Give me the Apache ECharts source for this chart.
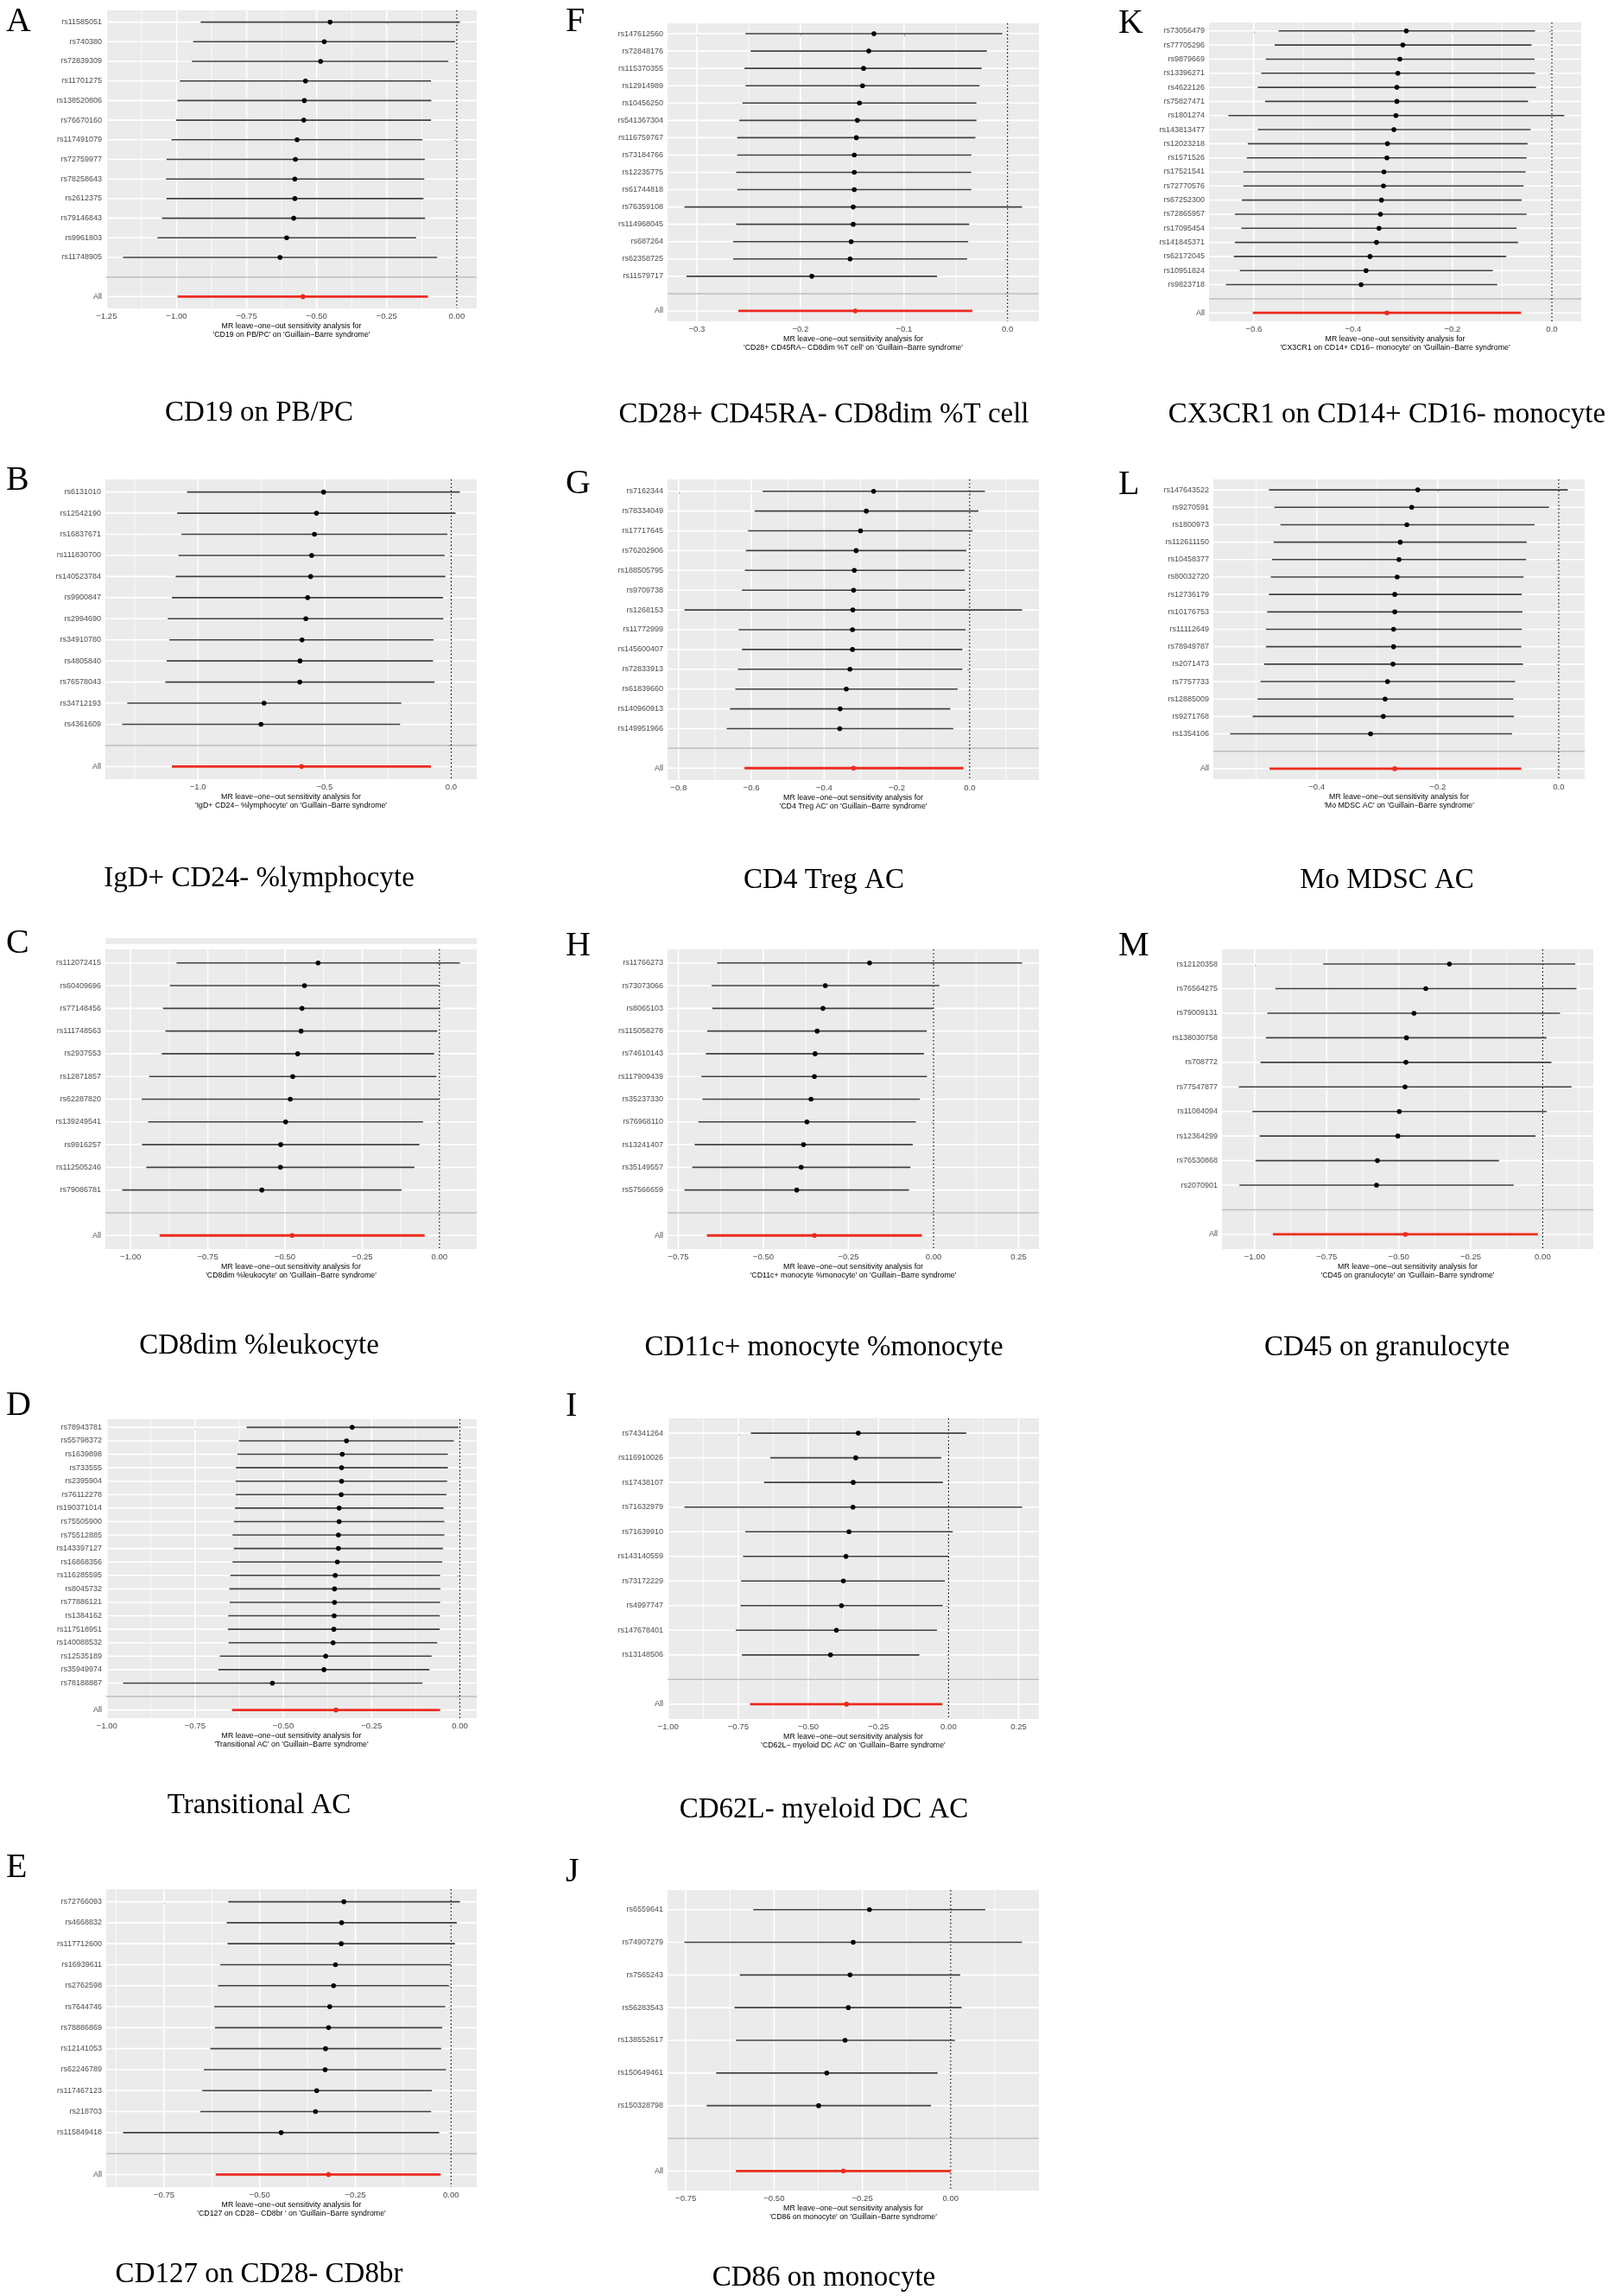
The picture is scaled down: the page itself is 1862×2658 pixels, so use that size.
<!DOCTYPE html>
<html lang="en">
<head>
<meta charset="UTF-8">
<title>MR leave-one-out | GBS</title>
<script src="https://cdn.jsdelivr.net/npm/echarts@6.0.0/dist/echarts.min.js"></script>
<style>
    html, body { margin: 0; padding: 0; background: #fff; }
    #main { width: 1862px; height: 2658px; }
</style>
</head>
<body>
<div id="main"></div>
<script type="text/javascript">
// A  CD19 on PB/PC
const snpA = ['rs11585051', 'rs740380', 'rs72839309', 'rs11701275', 'rs138520806', 'rs76670160', 'rs117491079', 'rs72759977', 'rs78258643', 'rs2612375', 'rs79146843', 'rs9961803', 'rs11748905'];
const bA = [-0.452, -0.473, -0.486, -0.540, -0.544, -0.546, -0.570, -0.576, -0.578, -0.578, -0.582, -0.607, -0.631];
const loA = [-0.914, -0.941, -0.945, -0.988, -0.997, -1.001, -1.018, -1.036, -1.038, -1.036, -1.052, -1.068, -1.191];
const upA = [0.011, -0.006, -0.030, -0.092, -0.091, -0.092, -0.123, -0.114, -0.116, -0.119, -0.113, -0.145, -0.070];
const allA = [-0.996, -0.549, -0.103];
const ticksA = ['-1.25', '-1.00', '-0.75', '-0.50', '-0.25', '0.00'];

// B  IgD+ CD24- %lymphocyte
const snpB = ['rs6131010', 'rs12542190', 'rs16837671', 'rs111830700', 'rs140523784', 'rs9900847', 'rs2994690', 'rs34910780', 'rs4805840', 'rs76578043', 'rs34712193', 'rs4361609'];
const bB = [-0.504, -0.532, -0.540, -0.551, -0.555, -0.567, -0.574, -0.589, -0.597, -0.598, -0.739, -0.751];
const loB = [-1.043, -1.082, -1.065, -1.077, -1.088, -1.103, -1.119, -1.113, -1.123, -1.129, -1.279, -1.299];
const upB = [0.034, 0.017, -0.015, -0.026, -0.023, -0.032, -0.031, -0.070, -0.072, -0.066, -0.197, -0.202];
const allB = [-1.103, -0.591, -0.080];
const ticksB = ['-1.0', '-0.5', '0.0'];

// C  CD8dim %leukocyte
const snpC = ['rs112072415', 'rs60409696', 'rs77148456', 'rs111748563', 'rs2937553', 'rs12871857', 'rs62287820', 'rs139249541', 'rs9916257', 'rs112505246', 'rs79086781'];
const bC = [-0.393, -0.437, -0.445, -0.448, -0.459, -0.475, -0.483, -0.498, -0.514, -0.515, -0.575];
const loC = [-0.851, -0.873, -0.895, -0.887, -0.899, -0.940, -0.964, -0.943, -0.963, -0.949, -1.027];
const upC = [0.066, 0.000, 0.002, -0.007, -0.017, -0.010, 0.000, -0.053, -0.065, -0.081, -0.123];
const allC = [-0.906, -0.477, -0.048];
const ticksC = ['-1.00', '-0.75', '-0.50', '-0.25', '0.00'];

// D  Transitional AC
const snpD = ['rs78943781', 'rs55798372', 'rs1639898', 'rs733555', 'rs2395904', 'rs76112278', 'rs190371014', 'rs75505900', 'rs75512885', 'rs143397127', 'rs16868356', 'rs116285595', 'rs8045732', 'rs77886121', 'rs1384162', 'rs117518951', 'rs140088532', 'rs12535189', 'rs35949974', 'rs78188887'];
const bD = [-0.305, -0.321, -0.333, -0.335, -0.335, -0.336, -0.342, -0.342, -0.344, -0.344, -0.347, -0.353, -0.355, -0.355, -0.356, -0.357, -0.359, -0.380, -0.385, -0.531];
const loD = [-0.604, -0.626, -0.630, -0.634, -0.635, -0.635, -0.637, -0.640, -0.644, -0.640, -0.644, -0.650, -0.653, -0.652, -0.656, -0.657, -0.655, -0.680, -0.684, -0.954];
const upD = [-0.004, -0.017, -0.034, -0.034, -0.036, -0.038, -0.046, -0.044, -0.044, -0.048, -0.050, -0.056, -0.055, -0.056, -0.057, -0.057, -0.064, -0.080, -0.086, -0.106];
const allD = [-0.645, -0.351, -0.056];
const ticksD = ['-1.00', '-0.75', '-0.50', '-0.25', '0.00'];

// E  CD127 on CD28- CD8br
const snpE = ['rs72766093', 'rs4668832', 'rs117712600', 'rs16939611', 'rs2762598', 'rs7644746', 'rs78886869', 'rs12141053', 'rs62246789', 'rs117467123', 'rs218703', 'rs115849418'];
const bE = [-0.280, -0.286, -0.287, -0.302, -0.307, -0.317, -0.320, -0.328, -0.329, -0.351, -0.354, -0.444];
const loE = [-0.582, -0.586, -0.584, -0.603, -0.609, -0.619, -0.617, -0.629, -0.646, -0.650, -0.655, -0.857];
const upE = [0.023, 0.015, 0.010, 0.000, -0.006, -0.015, -0.023, -0.026, -0.013, -0.050, -0.052, -0.031];
const allE = [-0.615, -0.320, -0.027];
const ticksE = ['-0.75', '-0.50', '-0.25', '0.00'];

// F  CD28+ CD45RA- CD8dim %T cell
const snpF = ['rs147612560', 'rs72848176', 'rs115370355', 'rs12914989', 'rs10456250', 'rs541367304', 'rs116759767', 'rs73184766', 'rs12235775', 'rs61744818', 'rs76359108', 'rs114968045', 'rs687264', 'rs62358725', 'rs11579717'];
const bF = [-0.129, -0.134, -0.139, -0.140, -0.143, -0.145, -0.146, -0.148, -0.148, -0.148, -0.149, -0.149, -0.151, -0.152, -0.189];
const loF = [-0.253, -0.248, -0.254, -0.253, -0.256, -0.259, -0.261, -0.261, -0.262, -0.261, -0.312, -0.262, -0.265, -0.265, -0.310];
const upF = [-0.005, -0.020, -0.025, -0.027, -0.030, -0.030, -0.031, -0.035, -0.035, -0.035, 0.014, -0.037, -0.038, -0.039, -0.068];
const allF = [-0.260, -0.147, -0.034];
const ticksF = ['-0.3', '-0.2', '-0.1', '0.0'];

// G  CD4 Treg AC
const snpG = ['rs7162344', 'rs78334049', 'rs17717645', 'rs76202906', 'rs188505795', 'rs9709738', 'rs1268153', 'rs11772999', 'rs145600407', 'rs72833913', 'rs61839660', 'rs140960913', 'rs149951966'];
const bG = [-0.264, -0.284, -0.300, -0.312, -0.317, -0.319, -0.321, -0.322, -0.322, -0.329, -0.339, -0.356, -0.357];
const loG = [-0.569, -0.591, -0.609, -0.615, -0.618, -0.626, -0.784, -0.635, -0.626, -0.637, -0.644, -0.659, -0.668];
const upG = [0.042, 0.024, 0.008, -0.009, -0.014, -0.012, 0.144, -0.011, -0.020, -0.020, -0.033, -0.053, -0.045];
const allG = [-0.619, -0.319, -0.017];
const ticksG = ['-0.8', '-0.6', '-0.4', '-0.2', '0.0'];

// H  CD11c+ monocyte %monocyte
const snpH = ['rs11766273', 'rs73073066', 'rs8065103', 'rs115058278', 'rs74610143', 'rs117909439', 'rs35237330', 'rs76968110', 'rs13241407', 'rs35149557', 'rs57566659'];
const bH = [-0.188, -0.318, -0.325, -0.342, -0.348, -0.350, -0.360, -0.372, -0.382, -0.389, -0.402];
const loH = [-0.636, -0.652, -0.650, -0.665, -0.669, -0.682, -0.679, -0.691, -0.702, -0.709, -0.732];
const upH = [0.260, 0.017, -0.001, -0.020, -0.028, -0.019, -0.040, -0.052, -0.061, -0.068, -0.072];
const allH = [-0.666, -0.350, -0.034];
const ticksH = ['-0.75', '-0.50', '-0.25', '0.00', '0.25'];

// I  CD62L- myeloid DC AC
const snpI = ['rs74341264', 'rs116910026', 'rs17438107', 'rs71632979', 'rs71639910', 'rs143140559', 'rs73172229', 'rs4997747', 'rs147678401', 'rs13148506'];
const bI = [-0.322, -0.331, -0.340, -0.341, -0.355, -0.366, -0.375, -0.382, -0.400, -0.421];
const loI = [-0.705, -0.636, -0.658, -0.942, -0.725, -0.733, -0.740, -0.742, -0.759, -0.737];
const upI = [0.063, -0.026, -0.020, 0.262, 0.015, 0.000, -0.013, -0.021, -0.041, -0.104];
const allI = [-0.708, -0.364, -0.022];
const ticksI = ['-1.00', '-0.75', '-0.50', '-0.25', '0.00', '0.25'];

// J  CD86 on monocyte
const snpJ = ['rs6559641', 'rs74907279', 'rs7565243', 'rs56283543', 'rs138552617', 'rs150649461', 'rs150328798'];
const bJ = [-0.230, -0.276, -0.285, -0.290, -0.299, -0.351, -0.374];
const loJ = [-0.559, -0.754, -0.597, -0.612, -0.608, -0.664, -0.691];
const upJ = [0.098, 0.202, 0.027, 0.031, 0.012, -0.037, -0.056];
const allJ = [-0.608, -0.304, 0.000];
const ticksJ = ['-0.75', '-0.50', '-0.25', '0.00'];

// K  CX3CR1 on CD14+ CD16- monocyte
const snpK = ['rs73056479', 'rs77705296', 'rs9879669', 'rs13396271', 'rs4622126', 'rs75827471', 'rs1801274', 'rs143813477', 'rs12023218', 'rs1571526', 'rs17521541', 'rs72770576', 'rs67252300', 'rs72865957', 'rs17095454', 'rs141845371', 'rs62172045', 'rs10951824', 'rs9823718'];
const bK = [-0.293, -0.300, -0.306, -0.310, -0.312, -0.312, -0.314, -0.318, -0.331, -0.332, -0.338, -0.339, -0.343, -0.345, -0.348, -0.353, -0.366, -0.374, -0.384];
const loK = [-0.550, -0.558, -0.576, -0.585, -0.592, -0.577, -0.651, -0.592, -0.612, -0.614, -0.621, -0.621, -0.624, -0.638, -0.625, -0.638, -0.640, -0.628, -0.656];
const upK = [-0.034, -0.041, -0.035, -0.034, -0.032, -0.048, 0.025, -0.043, -0.049, -0.051, -0.053, -0.057, -0.061, -0.051, -0.071, -0.068, -0.092, -0.119, -0.110];
const allK = [-0.602, -0.332, -0.062];
const ticksK = ['-0.6', '-0.4', '-0.2', '0.0'];

// L  Mo MDSC AC
const snpL = ['rs147643522', 'rs9270591', 'rs1800973', 'rs112611150', 'rs10458377', 'rs80032720', 'rs12736179', 'rs10176753', 'rs11112649', 'rs78949787', 'rs2071473', 'rs7757733', 'rs12885009', 'rs9271768', 'rs1354106'];
const bL = [-0.233, -0.243, -0.251, -0.262, -0.264, -0.267, -0.271, -0.271, -0.273, -0.273, -0.274, -0.283, -0.287, -0.290, -0.311];
const loL = [-0.479, -0.470, -0.460, -0.471, -0.474, -0.476, -0.479, -0.482, -0.484, -0.484, -0.487, -0.493, -0.498, -0.506, -0.543];
const upL = [0.015, -0.016, -0.040, -0.053, -0.054, -0.058, -0.061, -0.060, -0.061, -0.062, -0.059, -0.072, -0.075, -0.074, -0.077];
const allL = [-0.478, -0.271, -0.062];
const ticksL = ['-0.4', '-0.2', '0.0'];

// M  CD45 on granulocyte
const snpM = ['rs12120358', 'rs76564275', 'rs79009131', 'rs138030758', 'rs708772', 'rs77547877', 'rs11084094', 'rs12364299', 'rs76530868', 'rs2070901'];
const bM = [-0.324, -0.406, -0.447, -0.473, -0.475, -0.478, -0.498, -0.503, -0.574, -0.577];
const loM = [-0.762, -0.928, -0.956, -0.961, -0.980, -1.055, -1.008, -0.983, -0.997, -1.053];
const upM = [0.113, 0.117, 0.060, 0.013, 0.030, 0.100, 0.013, -0.025, -0.152, -0.101];
const allM = [-0.937, -0.477, -0.017];
const ticksM = ['-1.00', '-0.75', '-0.50', '-0.25', '0.00'];

const panels = [
    {key: 'A', snp: snpA, b: bA, lo: loA, up: upA, all: allA, ticks: ticksA, exposure: 'CD19 on PB/PC'},
    {key: 'B', snp: snpB, b: bB, lo: loB, up: upB, all: allB, ticks: ticksB, exposure: 'IgD+ CD24- %lymphocyte'},
    {key: 'C', snp: snpC, b: bC, lo: loC, up: upC, all: allC, ticks: ticksC, exposure: 'CD8dim %leukocyte'},
    {key: 'D', snp: snpD, b: bD, lo: loD, up: upD, all: allD, ticks: ticksD, exposure: 'Transitional AC'},
    {key: 'E', snp: snpE, b: bE, lo: loE, up: upE, all: allE, ticks: ticksE, exposure: 'CD127 on CD28- CD8br '},
    {key: 'F', snp: snpF, b: bF, lo: loF, up: upF, all: allF, ticks: ticksF, exposure: 'CD28+ CD45RA- CD8dim %T cell'},
    {key: 'G', snp: snpG, b: bG, lo: loG, up: upG, all: allG, ticks: ticksG, exposure: 'CD4 Treg AC'},
    {key: 'H', snp: snpH, b: bH, lo: loH, up: upH, all: allH, ticks: ticksH, exposure: 'CD11c+ monocyte %monocyte'},
    {key: 'I', snp: snpI, b: bI, lo: loI, up: upI, all: allI, ticks: ticksI, exposure: 'CD62L- myeloid DC AC'},
    {key: 'J', snp: snpJ, b: bJ, lo: loJ, up: upJ, all: allJ, ticks: ticksJ, exposure: 'CD86 on monocyte'},
    {key: 'K', snp: snpK, b: bK, lo: loK, up: upK, all: allK, ticks: ticksK, exposure: 'CX3CR1 on CD14+ CD16- monocyte'},
    {key: 'L', snp: snpL, b: bL, lo: loL, up: upL, all: allL, ticks: ticksL, exposure: 'Mo MDSC AC'},
    {key: 'M', snp: snpM, b: bM, lo: loM, up: upM, all: allM, ticks: ticksM, exposure: 'CD45 on granulocyte'}
];

// panel box [left, top, right, bottom], letter [x, y], caption [x, y]
const layout = {
    A: {box: [123, 12, 552, 357], letter: [7, 25], caption: [300, 478]},
    B: {box: [122, 555, 552, 902], letter: [7, 556], caption: [300, 1017]},
    C: {box: [122, 1099, 552, 1446], letter: [7, 1092], caption: [300, 1558]},
    D: {box: [123, 1643, 552, 1989], letter: [7, 1627], caption: [300, 2090]},
    E: {box: [123, 2187, 552, 2532], letter: [7, 2162], caption: [300, 2633]},
    F: {box: [773, 27, 1203, 372], letter: [655, 25], caption: [954, 480]},
    G: {box: [773, 555, 1203, 903], letter: [655, 560], caption: [954, 1019]},
    H: {box: [773, 1099, 1203, 1446], letter: [655, 1095], caption: [954, 1560]},
    I: {box: [773, 1642, 1203, 1990], letter: [655, 1628], caption: [954, 2095]},
    J: {box: [773, 2188, 1203, 2536], letter: [655, 2167], caption: [954, 2637]},
    K: {box: [1400, 26, 1831, 372], letter: [1295, 27], caption: [1606, 480]},
    L: {box: [1405, 555, 1835, 902], letter: [1295, 561], caption: [1606, 1019]},
    M: {box: [1415, 1099, 1845, 1446], letter: [1295, 1095], caption: [1606, 1560]}
};

const SANS = 'Liberation Sans';
const SERIF = 'Liberation Serif';
const MINUS = '\u2212';

function tickLabel(ticks, v) {
    for (const t of ticks) {
        if (Math.abs(Number(t) - v) < 1e-9) return t.replace('-', MINUS);
    }
    return '';
}

// white panel grid (major + minor verticals, one line per row) and grey separator
function gridRender(p, xmin, xmax, rows) {
    const tv = p.ticks.map(Number);
    const step = tv[1] - tv[0];
    const minors = [tv[0] - step / 2].concat(tv.map(t => t + step / 2)).filter(v => v > xmin && v < xmax);
    return function (params, api) {
        const cs = params.coordSys;
        const kids = [];
        const vert = (v, w) => {
            const x = api.coord([v, 0])[0];
            kids.push({type: 'line', shape: {x1: x, y1: cs.y, x2: x, y2: cs.y + cs.height}, style: {stroke: '#fff', lineWidth: w}});
        };
        minors.forEach(v => vert(v, 0.8));
        tv.forEach(v => vert(v, 1.6));
        for (let k = 0; k < rows; k++) {
            const y = api.coord([0, k])[1];
            const blank = k === rows - 2;
            kids.push({type: 'line', shape: {x1: cs.x, y1: y, x2: cs.x + cs.width, y2: y},
                style: {stroke: blank ? '#bebebe' : '#fff', lineWidth: blank ? 1.5 : 1.6}});
        }
        return {type: 'group', children: kids};
    };
}

function zeroRender(params, api) {
    const cs = params.coordSys;
    const x = api.coord([0, 0])[0];
    return {type: 'line', shape: {x1: x, y1: cs.y, x2: x, y2: cs.y + cs.height},
        style: {stroke: '#000', lineWidth: 1.2, lineDash: [1.6, 2.6]}};
}

function barRender(lineColor, dotColor, lw, r) {
    return function (params, api) {
        const y = api.value(3);
        const a = api.coord([api.value(0), y]);
        const m = api.coord([api.value(1), y]);
        const b = api.coord([api.value(2), y]);
        return {type: 'group', children: [
            {type: 'line', shape: {x1: a[0], y1: a[1], x2: b[0], y2: b[1]}, style: {stroke: lineColor, lineWidth: lw}},
            {type: 'circle', shape: {cx: m[0], cy: m[1], r: r}, style: {fill: dotColor}}
        ]};
    };
}

const grids = [], xAxes = [], yAxes = [], series = [], graphics = [];

panels.forEach(function (p, i) {
    const L = layout[p.key];
    const [x1, y1, x2, y2] = L.box;
    const cats = p.snp.concat(['', 'All']);
    const idx = cats.map((c, k) => k);
    const lo = Math.min(0, p.all[0], ...p.lo);
    const hi = Math.max(0, p.all[2], ...p.up);
    const pad = (hi - lo) * 0.05;
    const xmin = lo - pad, xmax = hi + pad;
    const tv = p.ticks.map(Number);

    grids.push({left: x1, top: y1, width: x2 - x1, height: y2 - y1, show: true, backgroundColor: '#ebebeb', borderWidth: 0});

    xAxes.push({
        type: 'value', gridIndex: i, min: xmin, max: xmax,
        axisLine: {show: false},
        axisTick: {show: true, customValues: tv, length: 3, lineStyle: {color: '#333', width: 1}},
        axisLabel: {customValues: tv, formatter: v => tickLabel(p.ticks, v), color: '#4d4d4d', fontSize: 9.6, fontFamily: SANS, margin: 4},
        splitLine: {show: false},
        name: ('MR leave-one-out sensitivity analysis for\n\'' + p.exposure + '\' on \'Guillain-Barre syndrome\'').replace(/-/g, MINUS),
        nameLocation: 'middle', nameGap: 16,
        nameTextStyle: {fontSize: 8.8, lineHeight: 9.5, color: '#000', fontFamily: SANS, verticalAlign: 'top'}
    });

    yAxes.push({
        type: 'value', gridIndex: i, inverse: true, min: -0.6, max: cats.length - 1 + 0.6,
        axisLine: {show: false},
        axisTick: {show: true, customValues: idx, length: 3, lineStyle: {color: '#333', width: 1}},
        axisLabel: {customValues: idx, formatter: v => cats[Math.round(v)], color: '#4d4d4d', fontSize: 9, fontFamily: SANS, margin: 5},
        splitLine: {show: false}
    });

    series.push({
        type: 'custom', name: p.key + '-grid', xAxisIndex: i, yAxisIndex: i, z: 1, silent: true,
        data: [[0, 0]], renderItem: gridRender(p, xmin, xmax, cats.length)
    });
    series.push({
        type: 'custom', name: p.key + '-zero', xAxisIndex: i, yAxisIndex: i, z: 2, silent: true,
        data: [[0, 0]], renderItem: zeroRender
    });
    series.push({
        type: 'custom', name: p.key + '-snp', xAxisIndex: i, yAxisIndex: i, z: 3, silent: true,
        encode: {x: [0, 2], y: 3},
        data: p.snp.map((s, k) => [p.lo[k], p.b[k], p.up[k], k]),
        renderItem: barRender('#3f3f3f', '#000', 1.6, 2.8)
    });
    series.push({
        type: 'custom', name: p.key + '-all', xAxisIndex: i, yAxisIndex: i, z: 3, silent: true,
        encode: {x: [0, 2], y: 3},
        data: [[p.all[0], p.all[1], p.all[2], cats.length - 1]],
        renderItem: barRender('#ec2c20', '#ec2c20', 2.8, 2.8)
    });

    graphics.push({type: 'text', x: L.letter[0], y: L.letter[1],
        style: {text: p.key, font: '40px "' + SERIF + '"', fill: '#000', textVerticalAlign: 'middle'}});
    graphics.push({type: 'text', x: L.caption[0], y: L.caption[1],
        style: {text: p.exposure.trim(), font: '33px "' + SERIF + '"', fill: '#000', textAlign: 'center', textVerticalAlign: 'middle'}});
});

// thin strip left over above panel C in the source figure
graphics.push({type: 'rect', shape: {x: 122, y: 1086, width: 430, height: 7}, style: {fill: '#ebebeb'}});

const chart = echarts.init(document.getElementById('main'));
chart.setOption({
    backgroundColor: '#fff',
    animation: false,
    textStyle: {fontFamily: SANS},
    grid: grids,
    xAxis: xAxes,
    yAxis: yAxes,
    series: series,
    graphic: graphics
});
</script>
</body>
</html>
